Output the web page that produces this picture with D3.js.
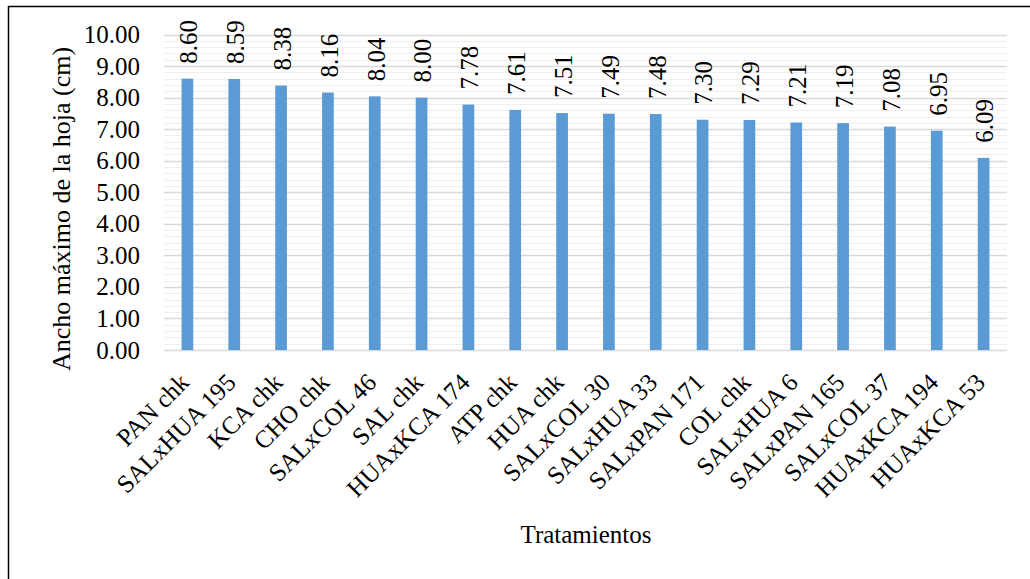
<!DOCTYPE html>
<html><head><meta charset="utf-8">
<script src="https://cdn.jsdelivr.net/npm/d3@7"></script>
<style>body{margin:0;background:#fff}svg{display:block}svg text{font-family:"Liberation Serif",serif !important;fill:#000}</style>
</head><body>
<svg id="c" width="1030" height="579"></svg>
<script>
const categories = ["PAN chk","SALxHUA 195","KCA chk","CHO chk","SALxCOL 46","SAL chk","HUAxKCA 174","ATP chk","HUA chk","SALxCOL 30","SALxHUA 33","SALxPAN 171","COL chk","SALxHUA 6","SALxPAN 165","SALxCOL 37","HUAxKCA 194","HUAxKCA 53"];
const values = [8.60,8.59,8.38,8.16,8.04,8.00,7.78,7.61,7.51,7.49,7.48,7.30,7.29,7.21,7.19,7.08,6.95,6.09];
const yTicks = [0,1,2,3,4,5,6,7,8,9,10];
const minorTicks = d3.range(0, 10.01, 0.2);

const FONT = "Liberation Serif";
const FS = "25px";
const svg = d3.select("#c");
const L = 164, R = 1007, T = 34.5, B = 350;
const x = d3.scaleBand().domain(categories).range([L, R]).paddingInner(0.75).paddingOuter(0.375);
const y = d3.scaleLinear().domain([0, 10]).range([B, T]);

// frame
svg.append("line").attr("x1",8.5).attr("x2",8.5).attr("y1",6).attr("y2",579).attr("stroke","#000").attr("stroke-width",1.5);
svg.append("line").attr("x1",8).attr("x2",1030).attr("y1",6.5).attr("y2",6.5).attr("stroke","#000").attr("stroke-width",1.5);

// minor grid
svg.append("g").selectAll("line").data(minorTicks).join("line")
  .attr("x1",L).attr("x2",R).attr("y1",d=>Math.round(y(d))+0.5).attr("y2",d=>Math.round(y(d))+0.5)
  .attr("stroke","#efefef").attr("stroke-width",1);
// major grid
svg.append("g").selectAll("line").data(yTicks).join("line")
  .attr("x1",L).attr("x2",R).attr("y1",d=>Math.round(y(d))+0.5).attr("y2",d=>Math.round(y(d))+0.5)
  .attr("stroke","#d9d9d9").attr("stroke-width",1.5);

// y axis labels
const yAxis = d3.axisLeft(y).tickValues(yTicks).tickFormat(d3.format(".2f")).tickSize(0).tickPadding(0);
const gy = svg.append("g").attr("transform",`translate(${L-24},0)`).call(yAxis)
  .attr("font-family",FONT).attr("font-size",FS);
gy.select(".domain").remove();
gy.selectAll("text").style("font-family",FONT).style("font-size",FS).attr("fill","#000");

// bars
svg.append("g").selectAll("rect").data(values).join("rect")
  .attr("x",(d,i)=>x(categories[i])).attr("width",x.bandwidth())
  .attr("y",d=>y(d)).attr("height",d=>B-y(d)).attr("fill","#5B9BD5");

// value labels
svg.append("g").selectAll("text").data(values).join("text")
  .attr("transform",(d,i)=>`translate(${x(categories[i])+x.bandwidth()/2+1},${y(d)-15}) rotate(-90)`)
  .attr("dy","0.35em").attr("text-anchor","start")
  .style("font-family",FONT).style("font-size",FS)
  .text(d=>d.toFixed(2));

// x labels
const xAxis = d3.axisBottom(x).tickSize(0).tickPadding(0);
const gx = svg.append("g").attr("transform",`translate(0,${B})`).call(xAxis)
  .attr("font-family",FONT).attr("font-size",FS);
gx.select(".domain").remove();
gx.selectAll("text")
  .attr("text-anchor","end").attr("y",null).attr("dy",null)
  .attr("transform","translate(3,34) rotate(-45)")
  .style("font-family",FONT).style("font-size",FS).attr("fill","#000");

// axis titles
svg.append("text").attr("transform",`translate(70,209) rotate(-90)`)
  .attr("text-anchor","middle").style("font-family",FONT).style("font-size","26px").text("Ancho máximo de la hoja (cm)");
svg.append("text").attr("x",586).attr("y",543).attr("text-anchor","middle")
  .style("font-family",FONT).style("font-size",FS).text("Tratamientos");
</script>
</body></html>
